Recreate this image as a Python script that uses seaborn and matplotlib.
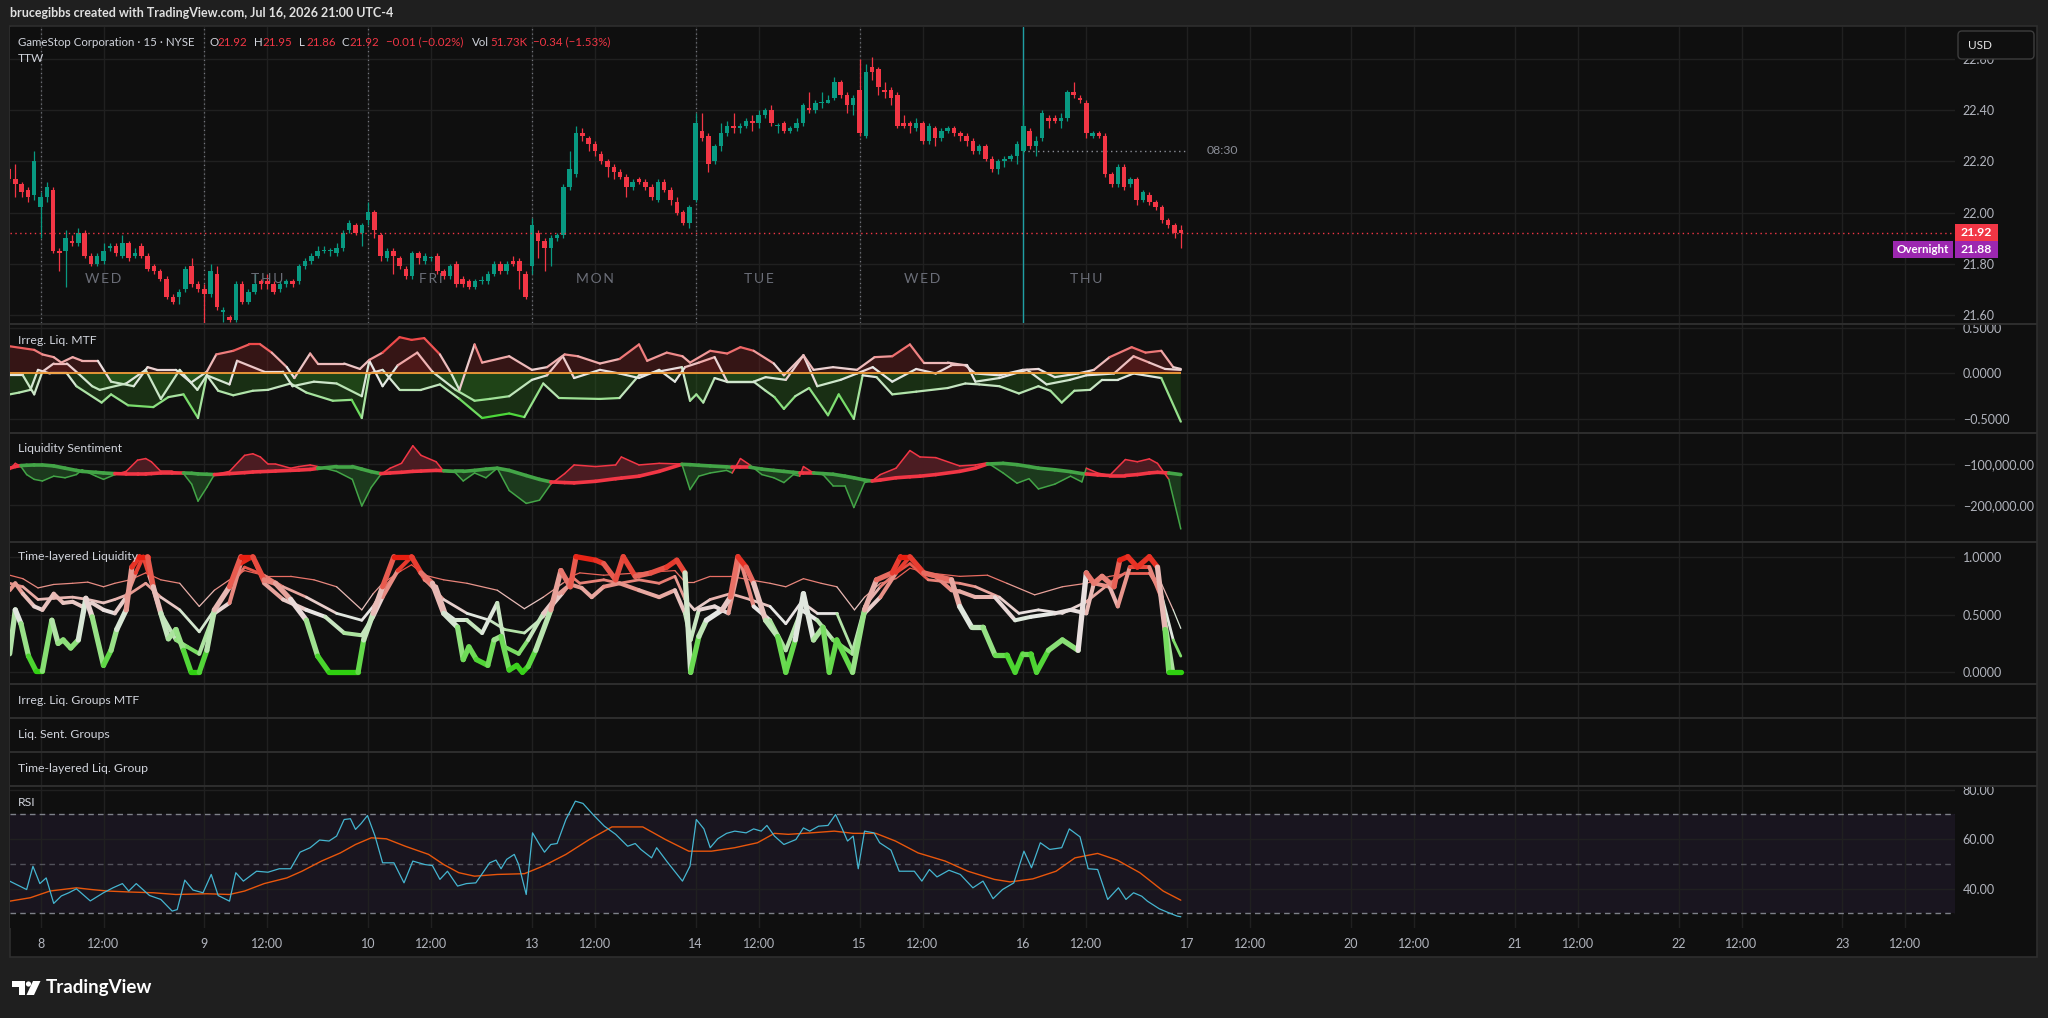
import numpy as np
import pandas as pd
import matplotlib
matplotlib.use("Agg")
import matplotlib.pyplot as plt
import seaborn as sns
from matplotlib.collections import LineCollection
from matplotlib.colors import LinearSegmentedColormap, TwoSlopeNorm, Normalize
from matplotlib.patches import Rectangle, FancyBboxPatch, Polygon, Circle

# ---------------- data (15 min bars, 9:30-16:00) ----------------
first_bar = -5  # bar 0 = first bar of Jul 8

bar_open = [22.17, 22.13, 22.11, 22.09, 22.07,
            22.02, 22.06, 22.09, 21.85, 21.85, 21.89, 21.88, 21.92, 21.83, 21.80,
            21.81, 21.86, 21.87, 21.83, 21.88, 21.83, 21.87, 21.83, 21.79, 21.77,
            21.74, 21.67, 21.67, 21.70, 21.79, 21.72, 21.70, 21.68, 21.76, 21.61,
            21.59, 21.58, 21.72, 21.65, 21.69, 21.73, 21.73, 21.72, 21.70, 21.72,
            21.73, 21.73, 21.79, 21.81, 21.83, 21.85, 21.85, 21.84, 21.86, 21.93,
            21.95, 21.92, 21.97, 22.00, 21.91, 21.82, 21.85, 21.82, 21.78, 21.75,
            21.84, 21.81, 21.82, 21.83, 21.77, 21.75, 21.80, 21.74, 21.73, 21.71,
            21.73, 21.73, 21.76, 21.80, 21.77, 21.81, 21.81, 21.76, 21.79, 21.92,
            21.89, 21.86, 21.90, 21.91, 22.10, 22.15, 22.31, 22.29, 22.27, 22.23,
            22.20, 22.18, 22.16, 22.14, 22.10, 22.13, 22.12, 22.10, 22.05, 22.12,
            22.09, 22.04, 22.00, 21.96, 22.05, 22.32, 22.30, 22.20, 22.26, 22.31,
            22.34, 22.33, 22.34, 22.36, 22.35, 22.38, 22.40, 22.34, 22.35, 22.32,
            22.33, 22.35, 22.41, 22.40, 22.43, 22.43, 22.45, 22.51, 22.46, 22.42,
            22.48, 22.30, 22.57, 22.56, 22.48, 22.48, 22.46, 22.35, 22.35, 22.33,
            22.35, 22.28, 22.33, 22.29, 22.32, 22.33, 22.31, 22.30, 22.28, 22.24,
            22.26, 22.21, 22.17, 22.20, 22.21, 22.22, 22.24, 22.32, 22.26, 22.29,
            22.37, 22.37, 22.36, 22.37, 22.47, 22.45, 22.43, 22.30, 22.31, 22.30,
            22.15, 22.11, 22.18, 22.11, 22.13, 22.05, 22.07, 22.04, 22.02, 21.97,
            21.95, 21.93]
bar_high = [22.18, 22.19, 22.12, 22.10, 22.24,
            22.08, 22.12, 22.10, 21.86, 21.93, 21.91, 21.94, 21.93, 21.84, 21.84,
            21.88, 21.88, 21.88, 21.91, 21.89, 21.86, 21.88, 21.84, 21.80, 21.78,
            21.75, 21.68, 21.70, 21.79, 21.82, 21.73, 21.72, 21.80, 21.79, 21.63,
            21.60, 21.73, 21.73, 21.70, 21.76, 21.74, 21.76, 21.73, 21.73, 21.74,
            21.74, 21.80, 21.82, 21.84, 21.87, 21.87, 21.86, 21.88, 21.93, 21.97,
            21.96, 21.96, 22.04, 22.01, 21.92, 21.86, 21.86, 21.83, 21.79, 21.85,
            21.85, 21.84, 21.83, 21.84, 21.78, 21.80, 21.81, 21.75, 21.74, 21.74,
            21.75, 21.77, 21.81, 21.81, 21.81, 21.83, 21.82, 21.77, 21.98, 21.93,
            21.90, 21.91, 21.92, 22.11, 22.24, 22.34, 22.33, 22.30, 22.28, 22.24,
            22.21, 22.19, 22.17, 22.15, 22.13, 22.14, 22.13, 22.11, 22.13, 22.13,
            22.10, 22.06, 22.01, 22.03, 22.39, 22.39, 22.31, 22.27, 22.35, 22.36,
            22.39, 22.35, 22.37, 22.38, 22.40, 22.41, 22.42, 22.35, 22.36, 22.34,
            22.37, 22.43, 22.47, 22.44, 22.47, 22.46, 22.53, 22.52, 22.47, 22.46,
            22.60, 22.58, 22.61, 22.57, 22.51, 22.49, 22.47, 22.38, 22.36, 22.37,
            22.36, 22.35, 22.34, 22.33, 22.34, 22.34, 22.32, 22.31, 22.29, 22.27,
            22.27, 22.22, 22.21, 22.22, 22.23, 22.28, 22.42, 22.33, 22.30, 22.40,
            22.38, 22.38, 22.39, 22.48, 22.51, 22.46, 22.44, 22.32, 22.32, 22.31,
            22.16, 22.19, 22.19, 22.14, 22.14, 22.09, 22.08, 22.05, 22.03, 21.98,
            21.96, 21.95]
bar_low = [22.12, 22.06, 22.06, 22.04, 22.05,
           21.90, 22.04, 21.84, 21.77, 21.71, 21.87, 21.87, 21.82, 21.79, 21.79,
           21.80, 21.85, 21.83, 21.82, 21.81, 21.82, 21.82, 21.77, 21.76, 21.73,
           21.66, 21.64, 21.64, 21.69, 21.71, 21.69, 21.56, 21.67, 21.62, 21.57,
           21.57, 21.57, 21.64, 21.64, 21.68, 21.70, 21.70, 21.68, 21.69, 21.71,
           21.71, 21.72, 21.78, 21.80, 21.82, 21.84, 21.83, 21.83, 21.85, 21.92,
           21.91, 21.87, 21.95, 21.90, 21.81, 21.81, 21.76, 21.78, 21.74, 21.74,
           21.80, 21.80, 21.81, 21.76, 21.74, 21.74, 21.71, 21.71, 21.70, 21.70,
           21.72, 21.72, 21.75, 21.76, 21.76, 21.79, 21.70, 21.66, 21.76, 21.82,
           21.77, 21.79, 21.89, 21.90, 22.09, 22.14, 22.28, 22.24, 22.22, 22.19,
           22.14, 22.13, 22.13, 22.06, 22.09, 22.11, 22.09, 22.05, 22.04, 22.08,
           22.03, 21.99, 21.95, 21.94, 22.04, 22.28, 22.16, 22.19, 22.24, 22.30,
           22.31, 22.31, 22.33, 22.32, 22.33, 22.37, 22.34, 22.31, 22.31, 22.31,
           22.32, 22.34, 22.39, 22.39, 22.41, 22.43, 22.44, 22.45, 22.39, 22.38,
           22.30, 22.29, 22.52, 22.46, 22.45, 22.42, 22.33, 22.33, 22.31, 22.32,
           22.27, 22.27, 22.26, 22.28, 22.31, 22.30, 22.28, 22.26, 22.23, 22.23,
           22.20, 22.16, 22.15, 22.18, 22.20, 22.19, 22.23, 22.25, 22.22, 22.28,
           22.33, 22.35, 22.33, 22.36, 22.45, 22.43, 22.29, 22.29, 22.29, 22.14,
           22.10, 22.10, 22.09, 22.10, 22.03, 22.04, 22.03, 22.01, 21.96, 21.94,
           21.90, 21.86]
bar_close = [22.13, 22.11, 22.08, 22.06, 22.20,
             22.06, 22.10, 21.85, 21.84, 21.90, 21.88, 21.92, 21.83, 21.80, 21.83,
             21.85, 21.87, 21.84, 21.88, 21.82, 21.84, 21.83, 21.78, 21.77, 21.74,
             21.67, 21.65, 21.69, 21.78, 21.72, 21.70, 21.68, 21.77, 21.63, 21.62,
             21.58, 21.72, 21.65, 21.69, 21.72, 21.72, 21.72, 21.69, 21.72, 21.73,
             21.72, 21.79, 21.81, 21.83, 21.85, 21.85, 21.85, 21.86, 21.92, 21.96,
             21.92, 21.95, 22.00, 21.93, 21.83, 21.85, 21.83, 21.79, 21.75, 21.84,
             21.82, 21.83, 21.82, 21.77, 21.75, 21.79, 21.72, 21.72, 21.71, 21.73,
             21.73, 21.76, 21.80, 21.77, 21.80, 21.80, 21.77, 21.67, 21.95, 21.89,
             21.86, 21.90, 21.91, 22.10, 22.17, 22.31, 22.30, 22.27, 22.24, 22.20,
             22.18, 22.16, 22.14, 22.10, 22.12, 22.12, 22.10, 22.06, 22.12, 22.09,
             22.05, 22.00, 21.96, 22.02, 22.35, 22.29, 22.19, 22.26, 22.31, 22.34,
             22.33, 22.34, 22.36, 22.35, 22.38, 22.40, 22.35, 22.34, 22.32, 22.33,
             22.35, 22.42, 22.40, 22.43, 22.43, 22.44, 22.51, 22.46, 22.42, 22.45,
             22.31, 22.55, 22.55, 22.49, 22.47, 22.45, 22.34, 22.34, 22.34, 22.35,
             22.28, 22.34, 22.29, 22.32, 22.33, 22.31, 22.30, 22.28, 22.24, 22.26,
             22.21, 22.17, 22.20, 22.21, 22.22, 22.27, 22.34, 22.26, 22.28, 22.39,
             22.36, 22.36, 22.37, 22.47, 22.46, 22.44, 22.31, 22.31, 22.30, 22.15,
             22.11, 22.18, 22.10, 22.13, 22.05, 22.08, 22.04, 22.02, 21.97, 21.95,
             21.92, 21.92]

# Irreg. Liq. MTF (three layers)
irr_hi_x = [-4.9, -1.0, 0.3, 2.1, 3.3, 5.1, 6.6, 9.1, 11.2, 14.8, 17.0, 18.5, 21.5, 23.9, 26.4, 27.9, 30.6,
            33.1, 34.9, 36.7, 39.1, 40.3, 42.8, 44.0, 48.2, 50.7, 52.2, 54.3, 57.0, 58.9, 60.9, 63.4, 65.2,
            66.5, 68.9, 70.1, 74.4, 78.0, 80.4, 83.2, 85.3, 88.8, 91.9, 95.0, 96.3, 99.4, 101.9, 103.1, 106.3,
            109.0, 111.1, 113.2, 116.4, 118.0, 121.1, 122.7, 125.8, 129.6, 132.4, 135.2, 138.0, 140.2, 144.0,
            146.8, 148.4, 152.2, 155.9, 158.4, 161.0, 164.7, 167.2, 169.7, 173.2, 175.4, 177.9, 179.8, 181.0]
irr_hi_y = [0.30, 0.26, 0.21, 0.18, 0.12, 0.18, 0.14, 0.14, -0.09, -0.14, 0.07, 0.04, 0.04, -0.10, 0.02, 0.21,
            0.25, 0.32, 0.32, 0.23, 0.07, -0.05, 0.22, 0.11, 0.11, 0.05, 0.15, 0.23, 0.40, 0.37, 0.39, 0.21,
            0.00, -0.18, 0.32, 0.12, 0.19, 0.04, 0.07, 0.21, 0.19, 0.11, 0.16, 0.32, 0.14, 0.23, 0.19, 0.12,
            0.25, 0.22, 0.29, 0.25, 0.11, -0.02, 0.20, 0.04, 0.07, 0.04, 0.18, 0.19, 0.32, 0.12, 0.12, 0.09,
            0.00, -0.02, 0.04, 0.05, -0.04, 0.00, 0.04, 0.18, 0.29, 0.23, 0.25, 0.07, 0.05]
irr_mid_x = [-4.9, -2.8, -1.0, 0.3, 2.1, 4.2, 6.0, 8.2, 9.4, 13.6, 16.7, 19.1, 22.1, 24.9, 26.4, 30.0, 31.2,
             35.5, 38.5, 40.0, 43.4, 47.0, 51.0, 52.2, 54.3, 56.7, 59.8, 62.2, 65.9, 68.9, 71.3, 74.4, 78.0,
             80.4, 82.9, 84.7, 88.8, 91.9, 95.0, 98.2, 100.7, 102.3, 104.5, 107.0, 109.0, 113.2, 115.1, 118.3,
             121.1, 123.3, 127.0, 129.6, 132.1, 135.2, 139.0, 142.1, 144.6, 147.1, 148.4, 152.2, 156.6, 159.7,
             163.4, 166.0, 170.4, 173.5, 176.0, 178.5, 181.0]
irr_mid_y = [-0.02, -0.02, -0.23, 0.02, 0.11, 0.11, 0.00, -0.14, -0.18, -0.11, 0.04, -0.28, 0.04, -0.18, -0.02,
             -0.12, 0.14, 0.02, 0.02, -0.14, -0.09, -0.11, -0.25, 0.14, -0.14, 0.09, 0.23, 0.02, -0.18, -0.30,
             -0.28, -0.25, -0.07, -0.02, 0.19, -0.05, 0.04, 0.00, -0.05, 0.04, -0.09, 0.07, 0.12, 0.18, -0.09,
             -0.09, -0.04, -0.07, 0.20, -0.14, -0.07, 0.00, 0.07, -0.09, 0.05, 0.00, 0.09, 0.09, -0.09, -0.05,
             0.04, -0.12, -0.07, -0.02, 0.00, 0.19, 0.12, 0.05, 0.04]
irr_lo_x = [-4.9, -3.4, -1.6, -0.4, 1.5, 4.2, 5.7, 9.7, 11.2, 13.9, 17.9, 20.3, 22.7, 25.0, 26.4, 28.2, 30.6,
            33.7, 36.1, 39.7, 42.2, 46.4, 49.4, 51.0, 52.2, 54.3, 57.0, 60.4, 63.4, 66.5, 70.1, 74.4, 76.8,
            79.8, 82.3, 88.8, 91.9, 95.0, 101.8, 103.1, 104.1, 105.2, 107.0, 108.9, 113.2, 115.1, 116.5, 118.0,
            119.8, 122.0, 125.0, 126.7, 129.1, 130.5, 132.7, 135.2, 139.0, 144.0, 146.8, 149.0, 152.2, 155.3,
            158.4, 160.3, 162.1, 164.1, 166.6, 168.5, 171.0, 173.5, 177.9, 181.0]
irr_lo_y = [-0.23, -0.21, -0.18, 0.04, 0.00, 0.00, -0.14, -0.32, -0.23, -0.35, -0.37, -0.26, -0.23, -0.49, -0.02,
            -0.19, -0.24, -0.19, -0.18, -0.11, -0.21, -0.30, -0.29, -0.49, 0.00, 0.04, -0.18, -0.18, -0.12,
            -0.28, -0.49, -0.44, -0.48, -0.11, -0.27, -0.28, -0.27, -0.02, 0.07, -0.30, -0.23, -0.32, -0.05,
            -0.09, -0.09, -0.19, -0.26, -0.39, -0.25, -0.16, -0.46, -0.23, -0.50, -0.02, -0.04, -0.23, -0.20,
            -0.16, -0.11, -0.12, -0.14, -0.22, -0.14, -0.19, -0.32, -0.19, -0.18, -0.07, -0.07, 0.00, -0.05,
            -0.53]

# Liquidity Sentiment (thousands)
sent_x = [-4.9, -4.0, -3.1, -2.2, -1.0, 0.3, 2.1, 3.9, 5.7, 6.6, 8.8, 10.0, 11.8, 13.6, 15.4, 16.7, 17.6, 19.1,
          20.9, 22.7, 24.0, 25.0, 26.4, 27.6, 30.0, 32.4, 33.7, 34.9, 36.1, 37.3, 39.7, 41.0, 42.8, 44.0, 47.0,
          49.5, 51.0, 52.5, 54.0, 55.5, 57.3, 59.1, 60.4, 62.8, 64.0, 65.8, 67.1, 68.9, 70.7, 72.5, 74.4, 77.1,
          79.2, 81.0, 83.2, 84.7, 88.1, 91.3, 92.2, 95.0, 98.2, 101.8, 103.1, 104.5, 106.3, 108.9, 109.8, 111.1,
          112.6, 114.5, 116.4, 118.0, 119.5, 120.5, 121.1, 122.7, 124.2, 125.8, 127.7, 129.1, 130.8, 132.0,
          133.3, 135.8, 138.0, 139.6, 142.1, 145.9, 148.4, 150.3, 152.8, 155.0, 156.9, 158.4, 161.0, 163.5,
          165.3, 166.0, 167.8, 169.7, 172.2, 174.1, 176.0, 177.3, 179.1, 181.0]
sent_thin = [-114.1, -98.4, -106.2, -125.8, -137.5, -141.4, -129.7, -133.6, -125.8, -114.1,
             -129.7, -137.5, -125.8, -118.0, -90.6, -86.7, -94.5, -118.0, -118.0, -123.4,
             -149.2, -190.6, -157.0, -125.8, -118.0, -78.9, -75.0, -82.8, -100.0, -100.0,
             -110.2, -106.2, -102.3, -106.2, -118.0, -137.5, -202.3, -157.0, -125.8, -110.2,
             -98.4, -55.5, -78.9, -94.5, -118.0, -120.3, -141.4, -121.9, -133.6, -110.2,
             -164.8, -196.1, -188.3, -149.2, -123.4, -102.3, -106.2, -102.3, -82.8, -102.3,
             -98.4, -100.0, -162.5, -129.7, -121.9, -115.6, -121.9, -86.7, -102.3, -125.8,
             -133.6, -145.3, -125.8, -129.7, -106.2, -121.9, -125.8, -153.1, -153.1, -206.2,
             -145.3, -141.4, -125.8, -110.2, -67.2, -82.8, -84.4, -104.7, -102.3, -96.9,
             -121.9, -146.9, -135.9, -160.9, -149.2, -129.7, -143.7, -110.2, -121.9, -128.1,
             -89.1, -94.5, -87.5, -98.4, -137.5, -258.5]
sent_base = [-110.2, -106.2, -103.9, -103.1, -102.3, -102.3, -104.7, -110.2, -115.6, -118.0,
             -120.3, -121.9, -123.4, -124.2, -124.2, -124.2, -123.4, -121.9, -121.9, -121.9,
             -122.6, -124.2, -125.0, -125.8, -123.4, -121.1, -119.5, -118.7, -118.0, -117.2,
             -115.6, -114.8, -113.3, -110.9, -106.2, -106.2, -112.5, -118.7, -123.4, -121.9,
             -120.3, -118.0, -117.2, -115.6, -116.4, -118.0, -118.0, -115.6, -112.5, -110.2,
             -115.6, -128.1, -137.5, -143.7, -145.3, -146.1, -142.2, -135.9, -134.4, -129.7,
             -118.0, -100.8, -101.6, -103.1, -104.7, -107.0, -107.8, -107.8, -107.8, -112.5,
             -115.6, -118.0, -120.3, -121.9, -121.9, -121.9, -123.4, -125.0, -129.7, -133.6,
             -139.1, -141.4, -139.1, -133.6, -131.2, -129.7, -125.8, -118.0, -110.2, -100.0,
             -98.4, -101.6, -106.2, -110.2, -114.1, -118.7, -123.4, -124.2, -126.6, -128.1,
             -128.1, -125.8, -121.9, -120.3, -121.9, -125.8]

# Time-layered Liquidity (four layers, fastest first)
tl_a_x = [-4.9, -4.0, -3.1, -1.9, -0.7, 0.3, 1.8, 2.8, 3.6, 4.8, 6.0, 7.2, 8.2, 10.0, 11.2, 12.1, 13.6, 14.5,
          15.7, 17.0, 17.9, 19.1, 20.3, 21.5, 22.7, 23.9, 25.2, 26.4, 27.6, 30.0, 31.8, 33.7, 35.5, 37.3, 39.7,
          42.2, 44.0, 45.8, 50.4, 51.3, 52.8, 54.3, 56.1, 58.9, 60.4, 62.2, 64.0, 66.2, 67.1, 68.0, 69.2, 71.0,
          72.0, 73.1, 74.4, 75.6, 76.5, 77.4, 78.6, 81.0, 82.6, 84.1, 85.0, 88.1, 89.4, 91.3, 92.5, 94.4, 96.9,
          99.4, 101.0, 102.3, 103.2, 104.5, 105.7, 108.2, 109.5, 110.7, 112.0, 113.2, 115.1, 117.0, 118.3,
          119.8, 121.1, 122.7, 124.2, 125.2, 126.4, 128.9, 130.8, 132.7, 135.2, 136.5, 138.0, 140.2, 144.6,
          145.9, 147.8, 149.6, 151.5, 153.4, 154.7, 155.9, 157.2, 158.1, 160.0, 162.2, 164.7, 166.0, 167.2,
          168.5, 170.4, 171.3, 172.6, 174.1, 176.0, 177.3, 178.5, 179.1, 181.0]
tl_a_y = [0.16, 0.54, 0.42, 0.14, 0.01, 0.01, 0.45, 0.25, 0.28, 0.21, 0.28, 0.64, 0.48, 0.06, 0.19, 0.37, 0.54,
          0.91, 1.0, 1.0, 0.74, 0.51, 0.29, 0.37, 0.19, 0.0, 0.0, 0.19, 0.54, 0.74, 1.0, 1.0, 0.80, 0.77, 0.63,
          0.45, 0.14, 0.0, 0.0, 0.28, 0.51, 0.74, 1.0, 1.0, 0.86, 0.77, 0.51, 0.39, 0.11, 0.22, 0.11, 0.06,
          0.28, 0.31, 0.02, 0.06, 0.0, 0.05, 0.19, 0.54, 0.88, 0.74, 1.0, 0.97, 0.94, 0.80, 1.0, 0.83, 0.86,
          0.91, 0.97, 0.86, 0.0, 0.31, 0.45, 0.54, 0.65, 1.0, 0.91, 0.77, 0.45, 0.31, 0.0, 0.28, 0.68, 0.28,
          0.39, 0.0, 0.28, 0.0, 0.54, 0.80, 0.86, 1.0, 1.0, 0.86, 0.80, 0.57, 0.39, 0.39, 0.15, 0.15, 0.0,
          0.16, 0.16, 0.0, 0.19, 0.28, 0.19, 0.86, 0.77, 0.83, 0.74, 0.97, 1.0, 0.91, 1.0, 0.91, 0.37, 0.0, 0.0]
tl_b_x = [-4.9, -4.0, -2.8, -1.0, 0.3, 2.1, 3.6, 5.1, 6.6, 8.2, 10.0, 11.8, 13.6, 15.1, 16.3, 17.3, 19.1, 21.5,
          23.3, 25.2, 27.6, 30.0, 31.8, 33.7, 35.5, 38.5, 42.2, 45.2, 48.2, 51.0, 52.8, 54.3, 56.7, 58.9, 61.0,
          62.8, 64.3, 65.8, 67.7, 70.1, 72.5, 73.7, 75.9, 77.4, 79.8, 82.3, 84.1, 85.9, 87.5, 89.4, 91.9, 95.0,
          98.2, 100.7, 102.3, 103.2, 104.5, 107.0, 109.2, 111.1, 113.2, 115.8, 118.3, 120.8, 123.3, 125.8,
          128.9, 130.8, 133.3, 135.8, 138.0, 140.2, 142.1, 144.6, 145.9, 148.4, 151.5, 154.7, 157.2, 161.0,
          163.5, 166.0, 167.2, 169.7, 171.0, 172.9, 176.0, 177.9, 179.8, 181.0]
tl_b_y = [0.71, 0.77, 0.68, 0.57, 0.54, 0.68, 0.60, 0.61, 0.57, 0.60, 0.54, 0.51, 0.65, 0.86, 1.0, 0.83, 0.51,
          0.28, 0.22, 0.16, 0.51, 0.60, 0.94, 1.0, 0.77, 0.63, 0.54, 0.48, 0.34, 0.32, 0.48, 0.65, 0.88, 1.0,
          0.80, 0.74, 0.51, 0.45, 0.45, 0.34, 0.60, 0.22, 0.16, 0.28, 0.51, 0.68, 0.76, 0.73, 0.65, 0.74, 0.77,
          0.71, 0.65, 0.71, 0.51, 0.28, 0.54, 0.57, 0.51, 0.97, 0.57, 0.45, 0.19, 0.54, 0.45, 0.28, 0.16, 0.51,
          0.65, 0.86, 1.0, 0.86, 0.83, 0.71, 0.70, 0.65, 0.65, 0.45, 0.48, 0.51, 0.54, 0.51, 0.77, 0.74, 0.57,
          0.91, 0.91, 0.65, 0.0, 0.0]
tl_c_x = [-4.9, -2.8, -0.4, 2.1, 5.1, 7.5, 10.0, 11.8, 14.2, 16.7, 19.1, 22.1, 25.2, 27.6, 30.0, 32.4, 35.5,
          38.5, 42.2, 47.0, 51.0, 52.8, 54.3, 57.3, 58.9, 61.0, 64.0, 67.7, 71.3, 73.7, 76.8, 79.8, 82.9, 84.7,
          85.6, 89.4, 91.9, 95.0, 98.2, 100.7, 102.3, 103.8, 106.3, 109.5, 112.6, 115.8, 118.3, 120.8, 123.3,
          126.4, 128.9, 130.8, 133.3, 135.8, 138.0, 140.9, 145.9, 148.4, 152.2, 155.3, 158.4, 162.2, 166.0,
          169.7, 172.2, 176.0, 177.9, 179.8, 181.0]
tl_c_y = [0.77, 0.74, 0.63, 0.64, 0.65, 0.63, 0.60, 0.63, 0.68, 0.77, 0.65, 0.54, 0.35, 0.54, 0.74, 0.91, 0.84,
          0.74, 0.65, 0.51, 0.45, 0.57, 0.71, 0.91, 1.0, 0.80, 0.63, 0.51, 0.45, 0.37, 0.34, 0.48, 0.68, 0.81,
          0.77, 0.80, 0.77, 0.80, 0.77, 0.83, 0.63, 0.54, 0.63, 0.68, 0.63, 0.57, 0.42, 0.61, 0.51, 0.51, 0.19,
          0.57, 0.74, 0.86, 0.94, 0.80, 0.77, 0.74, 0.65, 0.51, 0.54, 0.51, 0.61, 0.77, 0.86, 0.86, 0.68, 0.28,
          0.14]
tl_d_x = [-4.9, -2.8, -0.4, 2.1, 5.1, 7.5, 10.0, 11.8, 14.2, 16.7, 19.1, 22.1, 25.2, 27.6, 30.0, 32.4, 36.1,
          39.7, 43.4, 47.0, 51.0, 52.8, 54.3, 57.3, 58.9, 61.0, 64.0, 67.7, 72.5, 76.8, 79.8, 82.9, 84.7, 85.6,
          89.4, 95.0, 100.7, 102.3, 103.8, 106.3, 109.5, 112.6, 115.8, 118.3, 121.1, 123.9, 126.4, 129.2,
          130.8, 133.3, 135.8, 138.0, 140.9, 145.9, 150.3, 153.4, 157.8, 162.2, 166.0, 169.7, 172.9, 176.0,
          177.9, 179.8, 181.0]
tl_d_y = [0.84, 0.81, 0.73, 0.76, 0.77, 0.78, 0.74, 0.77, 0.80, 0.86, 0.80, 0.77, 0.57, 0.71, 0.80, 0.88, 0.83,
          0.83, 0.80, 0.74, 0.54, 0.68, 0.77, 0.88, 0.93, 0.84, 0.80, 0.77, 0.71, 0.55, 0.65, 0.77, 0.84, 0.86,
          0.84, 0.86, 0.88, 0.78, 0.78, 0.83, 0.83, 0.80, 0.77, 0.74, 0.81, 0.77, 0.74, 0.54, 0.65, 0.77, 0.81,
          0.90, 0.86, 0.83, 0.84, 0.77, 0.67, 0.74, 0.77, 0.83, 0.86, 0.86, 0.77, 0.54, 0.38]

# RSI and its moving average
rsi_x = [-4.9, -2.2, -1.2, -0.1, 0.9, 2.1, 3.3, 4.5, 5.7, 7.9, 10.0, 11.5, 13.0, 14.0, 15.2, 17.3, 19.1, 20.9,
         21.7, 22.9, 24.2, 25.8, 27.1, 28.2, 30.0, 31.0, 32.2, 34.3, 36.1, 37.9, 39.7, 41.2, 42.8, 44.3, 45.8,
         47.0, 48.2, 49.2, 50.0, 50.9, 51.9, 53.1, 54.3, 56.1, 57.7, 59.1, 61.0, 62.2, 63.4, 64.6, 66.2, 67.6,
         69.1, 71.3, 72.3, 73.1, 74.0, 75.2, 75.9, 77.1, 78.1, 79.2, 80.0, 81.0, 82.0, 83.4, 84.9, 86.1, 87.7,
         89.5, 91.3, 93.2, 94.4, 95.3, 97.0, 97.8, 99.5, 101.9, 103.1, 104.1, 105.3, 106.3, 107.5, 108.9, 110.2,
         112.0, 113.2, 114.4, 115.3, 116.5, 118.0, 119.9, 121.1, 122.1, 123.5, 125.0, 126.2, 127.2, 128.1,
         129.0, 129.8, 130.8, 132.3, 133.2, 135.0, 136.3, 138.7, 139.9, 141.1, 142.3, 144.2, 146.0, 148.0,
         149.6, 151.2, 152.7, 154.5, 156.1, 157.3, 158.7, 160.2, 162.1, 163.3, 165.0, 166.3, 167.8, 169.4,
         171.1, 172.3, 173.5, 174.8, 175.7, 177.6, 179.1, 180.4, 181.0]
rsi_y = [43.0, 39.6, 49.0, 42.0, 44.3, 34.0, 37.0, 38.3, 39.9, 35.0, 38.3, 40.3, 42.0, 39.0, 42.0, 37.2, 35.6,
         30.9, 31.5, 43.4, 39.4, 38.3, 45.7, 37.2, 34.9, 46.4, 43.0, 47.0, 46.6, 48.0, 48.0, 54.7, 56.5, 59.6,
         59.2, 61.2, 67.9, 68.2, 63.9, 66.3, 69.5, 61.2, 50.4, 50.4, 42.3, 51.1, 49.7, 49.3, 43.7, 47.0, 41.0,
         42.0, 42.3, 50.4, 51.5, 48.0, 51.8, 53.8, 49.7, 37.6, 62.5, 57.8, 54.7, 57.8, 58.2, 67.9, 75.3, 74.4,
         69.9, 65.2, 61.9, 57.1, 58.2, 55.8, 52.4, 56.5, 50.7, 43.0, 49.1, 67.9, 64.1, 56.5, 60.1, 62.3, 63.2,
         62.5, 64.1, 63.2, 65.5, 61.2, 57.8, 59.8, 64.5, 63.2, 65.2, 65.5, 69.9, 64.5, 59.2, 61.2, 48.0, 63.2,
         62.5, 58.5, 55.5, 47.0, 47.0, 43.0, 47.7, 44.7, 47.4, 45.7, 40.3, 43.0, 35.9, 39.6, 42.3, 55.1, 48.4,
         58.5, 55.8, 56.5, 64.1, 60.9, 48.0, 47.7, 35.6, 40.3, 35.6, 38.3, 36.9, 34.9, 31.8, 30.2, 28.9, 28.6]
ma_x = [-4.9, -1.6, 1.5, 5.7, 8.1, 10.6, 14.2, 17.9, 21.5, 26.4, 30.0, 32.4, 35.5, 39.1, 41.5, 44.6, 47.6, 50.0,
        52.5, 54.9, 57.9, 61.6, 64.0, 66.4, 68.9, 72.5, 76.8, 79.8, 83.4, 87.1, 90.7, 95.6, 99.2, 102.9, 106.5,
        110.2, 113.8, 116.5, 118.7, 122.3, 126.0, 129.0, 132.6, 135.7, 139.3, 143.6, 147.2, 151.4, 153.9, 157.5,
        161.2, 164.2, 167.8, 170.9, 174.5, 178.2, 181.0]
ma_y = [34.9, 36.3, 39.0, 40.3, 39.6, 39.0, 38.6, 38.3, 37.6, 37.9, 37.6, 39.0, 42.0, 44.3, 47.0, 51.1, 54.4,
        57.8, 60.5, 60.1, 57.1, 53.8, 49.7, 46.4, 45.0, 45.7, 46.0, 49.1, 53.8, 59.8, 64.9, 64.9, 59.8, 55.1,
        55.1, 56.5, 58.5, 62.3, 61.9, 62.5, 63.2, 62.3, 62.3, 59.2, 54.4, 51.1, 47.0, 43.7, 42.7, 43.9, 47.0,
        52.4, 54.2, 51.5, 46.4, 39.0, 35.3]

day_bars = [0, 26, 52, 78, 104, 130, 156, 182, 208, 234, 260, 286]
day_labels = ["8", "9", "10", "13", "14", "15", "16", "17", "20", "21", "22", "23"]
weekday_labels = ["WED", "THU", "FRI", "MON", "TUE", "WED", "THU"]
session_bars = [0, 26, 52, 78, 104, 130]
last_bar = 181
last_price, overnight_price, level_0830 = 21.92, 21.88, 22.24

price_ticks = [21.6, 21.8, 22.0, 22.2, 22.4, 22.6]
price_ticklabels = ["21.60", "21.80", "22.00", "22.20", "22.40", "22.60"]
irr_ticks, irr_ticklabels = [-0.5, 0.0, 0.5], ["\u22120.5000", "0.0000", "0.5000"]
sent_ticks, sent_ticklabels = [-200000, -100000], ["\u2212200,000.00", "\u2212100,000.00"]
tl_ticks, tl_ticklabels = [0.0, 0.5, 1.0], ["0.0000", "0.5000", "1.0000"]
rsi_ticks, rsi_ticklabels = [40, 60, 80], ["40.00", "60.00", "80.00"]

# ---------------- style ----------------
W, H = 2048, 1018
BG = "#0f0f0f"
OUTER = "#1f1f1f"
GRID = "#202020"
SEP = "#2e2e2e"
AXTXT = "#b2b5be"
TITLE = "#d1d4dc"
UP = "#089981"
DN = "#f23645"

sns.set_theme(style="dark", rc={"axes.facecolor": BG, "figure.facecolor": OUTER,
                                "savefig.facecolor": OUTER, "text.color": TITLE,
                                "ytick.color": AXTXT, "xtick.color": AXTXT})
plt.rcParams["font.family"] = ["Lato", "DejaVu Sans"]

PX0, PX1 = 10, 1955
BAR0_PX, BAR_PX = 40.5, 6.3
XMIN = (PX0 - BAR0_PX) / BAR_PX
XMAX = (PX1 - BAR0_PX) / BAR_PX
grid_bars = sorted(day_bars + [b + 10 for b in day_bars])

fig = plt.figure(figsize=(W / 100, H / 100), dpi=100)

base = fig.add_axes([0, 0, 1, 1], label="base", zorder=-10)
base.set_xlim(0, W)
base.set_ylim(H, 0)
base.axis("off")
base.add_patch(Rectangle((10, 26), 2027, 931, facecolor=BG, edgecolor=SEP, lw=1.2))


def pane(y0, y1, ylim, ticks=None, labels=None):
    ax = fig.add_axes([PX0 / W, 1 - y1 / H, (PX1 - PX0) / W, (y1 - y0) / H])
    ax.set_facecolor(BG)
    for s in ax.spines.values():
        s.set_visible(False)
    ax.set_xlim(XMIN, XMAX)
    ax.set_ylim(*ylim)
    ax.set_xticks(grid_bars)
    ax.tick_params(axis="x", length=0, labelbottom=False)
    ax.yaxis.tick_right()
    if ticks is not None:
        ax.set_yticks(ticks)
        ax.set_yticklabels(labels)
    else:
        ax.set_yticks([])
    ax.tick_params(axis="y", length=0, pad=5.5, labelsize=9, labelcolor=AXTXT)
    ax.grid(True, color=GRID, lw=1.0)
    ax.set_axisbelow(True)
    return ax


def gradient_line(ax, xs, ys, cmap, norm, lw, z=3):
    xs = np.asarray(xs, float)
    ys = np.asarray(ys, float)
    pts = np.column_stack([xs, ys])
    segs = np.stack([pts[:-1], pts[1:]], axis=1)
    mid = (ys[:-1] + ys[1:]) / 2
    lc = LineCollection(segs, colors=cmap(norm(mid)), linewidths=lw,
                        capstyle="round", joinstyle="round", zorder=z)
    ax.add_collection(lc)


def price_y(p):
    return 212.5 - (p - 22.0) / 0.003914


# ---------------- price pane ----------------
ax_p = pane(27, 323, (22.0 - (323 - 212.5) * 0.003914, 22.0 + (212.5 - 27) * 0.003914),
            price_ticks, price_ticklabels)
df = pd.DataFrame({"bar": np.arange(first_bar, first_bar + len(bar_close)),
                   "open": bar_open, "high": bar_high, "low": bar_low, "close": bar_close})
col = np.where(df["close"] >= df["open"], UP, DN)
ax_p.vlines(df["bar"], df["low"], df["high"], colors=col, lw=0.9, zorder=3)
body_lo = np.minimum(df["open"], df["close"])
body_h = np.maximum((df["close"] - df["open"]).abs(), 0.004)
ax_p.bar(df["bar"], body_h, bottom=body_lo, width=0.72, color=col, lw=0, zorder=4)

for b in session_bars:
    ax_p.axvline(b, color="#8a8d96", lw=0.9, ls=(0, (1, 2.5)), alpha=0.8, zorder=2)
ax_p.axvline(156, color="#1f9ea3", lw=1.0, zorder=2)
ax_p.axhline(last_price, color=DN, lw=1.0, ls=(0, (1, 2.5)), zorder=5)
ax_p.hlines(level_0830, 156, 182, color="#8a8d96", lw=1.0, ls=(0, (1, 2.5)), zorder=2)
for i, name in enumerate(weekday_labels):
    ax_p.text(day_bars[i] + 10, 0.147, "\u2009".join(name), transform=ax_p.get_xaxis_transform(),
              ha="center", va="center", color="#6b6e78", fontsize=10)

# ---------------- Irreg. Liq. MTF ----------------
ax_i = pane(324, 432, (-(432 - 373.5) * 0.01101, (373.5 - 324) * 0.01101), irr_ticks, irr_ticklabels)
irr_cmap = LinearSegmentedColormap.from_list("irr", ["#3fd62a", "#a8e3a0", "#e8e8e8", "#f0a8a8", "#ee4848"])
irr_norm = TwoSlopeNorm(vmin=-0.5, vcenter=0.0, vmax=0.32)
for xs, ys in [(irr_hi_x, irr_hi_y), (irr_mid_x, irr_mid_y), (irr_lo_x, irr_lo_y)]:
    xa, ya = np.array(xs), np.array(ys)
    ax_i.fill_between(xa, ya, 0, where=ya > 0, interpolate=True, color="#7a2020", alpha=0.36, lw=0, zorder=1)
    ax_i.fill_between(xa, ya, 0, where=ya < 0, interpolate=True, color="#2c6a1e", alpha=0.36, lw=0, zorder=1)
for xs, ys in [(irr_lo_x, irr_lo_y), (irr_mid_x, irr_mid_y), (irr_hi_x, irr_hi_y)]:
    gradient_line(ax_i, xs, ys, irr_cmap, irr_norm, 1.6)
ax_i.hlines(0, XMIN, last_bar, color="#f29d38", lw=1.3, zorder=5)

# ---------------- Liquidity Sentiment ----------------
ax_s = pane(433, 541, (-287800, -24390), sent_ticks, sent_ticklabels)
sx = np.array(sent_x)
thin = np.array(sent_thin) * 1000
thick = np.array(sent_base) * 1000
ax_s.fill_between(sx, thin, thick, where=thin >= thick, interpolate=True, color="#4b1c22", lw=0, zorder=1)
ax_s.fill_between(sx, thin, thick, where=thin < thick, interpolate=True, color="#1c3a1d", lw=0, zorder=1)
bull = (thin[:-1] + thin[1:]) >= (thick[:-1] + thick[1:])
seg_cols = np.where(bull, DN, "#43a547")
for arr, lw in [(thin, 1.1), (thick, 2.6)]:
    pts = np.column_stack([sx, arr])
    segs = np.stack([pts[:-1], pts[1:]], axis=1)
    ax_s.add_collection(LineCollection(segs, colors=seg_cols, linewidths=lw,
                                       capstyle="round", joinstyle="round", zorder=3))

# ---------------- Time-layered Liquidity ----------------
ax_t = pane(542, 683, (-(683 - 672.3) / 115.6, 1 + (556.7 - 542) / 115.6), tl_ticks, tl_ticklabels)
tl_cmap = LinearSegmentedColormap.from_list("tl", ["#2fd010", "#8fe07c", "#e8e8e8", "#e8938a", "#e81e10"])
tl_norm = Normalize(0, 1)
gradient_line(ax_t, tl_d_x, tl_d_y, tl_cmap, tl_norm, 0.9, z=3)
gradient_line(ax_t, tl_c_x, tl_c_y, tl_cmap, tl_norm, 2.0, z=4)
gradient_line(ax_t, tl_b_x, tl_b_y, tl_cmap, tl_norm, 2.9, z=5)
gradient_line(ax_t, tl_a_x, tl_a_y, tl_cmap, tl_norm, 3.8, z=6)

# ---------------- collapsed group panes ----------------
pane(684, 717, (0, 1))
pane(718, 751, (0, 1))
pane(752, 785, (0, 1))

# ---------------- RSI ----------------
rsi_lim = (30 - (928 - 913.3) * 0.404, 70 + (814.3 - 786) * 0.404)
ax_r = pane(786, 928, rsi_lim, rsi_ticks, rsi_ticklabels)
ax_r.axhspan(30, 70, color="#7e57c2", alpha=0.09, lw=0, zorder=0)
for lvl, a in [(70, 0.9), (50, 0.5), (30, 0.9)]:
    ax_r.axhline(lvl, color="#8a8d96", lw=1.0, ls=(0, (4, 3)), alpha=a, zorder=1)
sns.lineplot(x=ma_x, y=ma_y, ax=ax_r, color="#e8560c", lw=1.0, estimator=None, sort=False, zorder=3)
sns.lineplot(x=rsi_x, y=rsi_y, ax=ax_r, color="#45b5d0", lw=0.9, estimator=None, sort=False, zorder=4)
ax_r.set_xlabel("")
ax_r.set_ylabel("")
ax_r.set_xlim(XMIN, XMAX)
ax_r.set_ylim(*rsi_lim)

# ---------------- time axis ----------------
ax_x = fig.add_axes([PX0 / W, 1 - 957 / H, (PX1 - PX0) / W, (957 - 928) / H])
ax_x.set_facecolor(BG)
ax_x.set_xlim(XMIN, XMAX)
ax_x.set_ylim(0, 1)
ax_x.axis("off")
for b, lab in zip(day_bars, day_labels):
    ax_x.text(b, 0.45, lab, ha="center", va="center", color=AXTXT, fontsize=9)
    ax_x.text(b + 10, 0.45, "12:00", ha="center", va="center", color=AXTXT, fontsize=9)

# ---------------- overlay: text, tags, separators ----------------
ov = fig.add_axes([0, 0, 1, 1], label="overlay", zorder=20)
ov.set_xlim(0, W)
ov.set_ylim(H, 0)
ov.axis("off")

for y in [323.5, 432.5, 541.5, 683.5, 717.5, 751.5, 785.5]:
    ov.plot([10, 2037], [y, y], color=SEP, lw=1.4, solid_capstyle="butt")

ov.text(10, 13, "brucegibbs created with TradingView.com, Jul 16, 2026 21:00 UTC-4",
        color="#e0e0e0", fontsize=9, weight="bold", va="center")

legend_parts = [(18, "GameStop Corporation \u00b7 15 \u00b7 NYSE", TITLE), (210, "O", TITLE), (217, "21.92", DN),
                (254, "H", TITLE), (262, "21.95", DN), (299, "L", TITLE), (306, "21.86", DN),
                (341, "C", TITLE), (349, "21.92", DN), (386, "\u22120.01 (\u22120.02%)", DN),
                (472, "Vol", TITLE), (490, "51.73K", DN), (533, "\u22120.34 (\u22121.53%)", DN)]
for x, s, c in legend_parts:
    ov.text(x, 42, s, color=c, fontsize=8.3, va="center")
ov.text(18, 58.5, "TTW", color=TITLE, fontsize=8.6, va="center")

for y, s in [(340, "Irreg. Liq. MTF"), (449, "Liquidity Sentiment"), (557, "Time-layered Liquidity"),
             (700, "Irreg. Liq. Groups MTF"), (734, "Liq. Sent. Groups"),
             (768, "Time-layered Liq. Group"), (802, "RSI")]:
    ov.text(18, y, s, color=TITLE, fontsize=8.8, va="center")

ov.text(1222.5, 150.5, "08:30", color="#8a8d96", fontsize=8.8, ha="center", va="center")

ov.add_patch(FancyBboxPatch((1958, 31), 76, 28, boxstyle="round,pad=0,rounding_size=4",
                            facecolor=BG, edgecolor="#3d3d3d", lw=1.0))
ov.text(1968, 45, "USD", color="#e6e6e6", fontsize=8.5, va="center")

ly = price_y(last_price)
ov.add_patch(Rectangle((1955, ly - 8.5), 43, 17, facecolor=DN, lw=0))
ov.text(1976.5, ly, "21.92", color="white", fontsize=8.8, weight="bold", ha="center", va="center")
oy = ly + 17
ov.add_patch(Rectangle((1955, oy - 8.5), 43, 17, facecolor="#9c27b0", lw=0))
ov.text(1976.5, oy, "21.88", color="white", fontsize=8.8, weight="bold", ha="center", va="center")
ov.add_patch(Rectangle((1893, oy - 8.5), 60, 17, facecolor="#9c27b0", lw=0))
ov.text(1923, oy, "Overnight", color="white", fontsize=8.3, weight="bold", ha="center", va="center")

# TradingView footer logo
ov.add_patch(Polygon([(12, 981), (25, 981), (25, 995), (19, 995), (19, 986.5), (12, 986.5)],
                     closed=True, facecolor="white", lw=0))
ov.add_patch(Circle((28.5, 984), 2.6, facecolor="white", lw=0))
ov.add_patch(Polygon([(33, 981), (40.5, 981), (34, 995), (26.5, 995)], closed=True, facecolor="white", lw=0))
ov.text(46, 988, "TradingView", color="white", fontsize=13.5, weight="bold", va="center")

fig.savefig("out.png", dpi=100, facecolor=OUTER)
